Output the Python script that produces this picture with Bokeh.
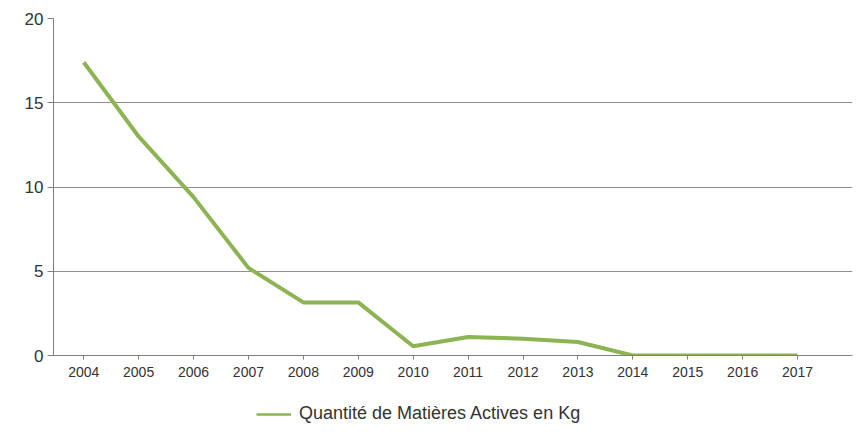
from bokeh.plotting import figure
from bokeh.models import FixedTicker, Range1d, Legend, LegendItem
from bokeh.layouts import column
from bokeh.embed import file_html
from bokeh.resources import INLINE

years = [2004, 2005, 2006, 2007, 2008, 2009, 2010, 2011, 2012, 2013, 2014, 2015, 2016, 2017]
quantite = [17.4, 13.0, 9.4, 5.2, 3.15, 3.15, 0.55, 1.1, 1.0, 0.8, 0.0, 0.0, 0.0, 0.0]
y_ticks = [0, 5, 10, 15, 20]
series_name = "Quantité de Matières Actives en Kg"

LINE_COLOR = "#8cb453"

p = figure(width=857, height=383, output_backend="svg", toolbar_location=None,
           x_range=Range1d(2003.45, 2018.0), y_range=Range1d(0, 20))
p.min_border_left = 53
p.min_border_top = 18
p.min_border_right = 5
p.min_border_bottom = 28
p.outline_line_color = None

r = p.line(years, quantite, line_color=LINE_COLOR, line_width=4, line_join="round")

p.xaxis.ticker = FixedTicker(ticks=years)
p.yaxis.ticker = FixedTicker(ticks=y_ticks)
p.xgrid.grid_line_color = None
p.ygrid.grid_line_color = "#8f8f8f"
p.ygrid.grid_line_width = 1
for ax in (p.xaxis, p.yaxis):
    ax.axis_line_color = "#808080"
    ax.major_tick_line_color = "#808080"
    ax.minor_tick_line_color = None
    ax.major_tick_in = 0
    ax.major_label_text_font = "Liberation Sans"
    ax.major_label_text_color = "#333333"
p.xaxis.major_tick_out = 4
p.yaxis.major_tick_out = 6
p.xaxis.major_label_text_font_size = "14px"
p.yaxis.major_label_text_font_size = "17px"
p.xaxis.major_label_standoff = 7
p.yaxis.major_label_standoff = 4

# legend strip below the chart
p2 = figure(width=857, height=52, output_backend="svg", toolbar_location=None,
            x_range=Range1d(0, 1), y_range=Range1d(0, 1))
p2.min_border = 0
p2.outline_line_color = None
p2.axis.visible = False
p2.grid.visible = False
dummy = p2.line(x=[-5, -4], y=[-5, -5], line_color=LINE_COLOR, line_width=2.5)
legend = Legend(items=[LegendItem(label=series_name, renderers=[dummy])],
                orientation="horizontal", location=(203, 11),
                border_line_color=None, background_fill_alpha=0,
                label_text_font="Liberation Sans", label_text_font_size="18px",
                label_text_color="#333333", glyph_width=35, margin=0, padding=0,
                label_standoff=8)
p2.add_layout(legend, "center")

layout = column(p, p2, spacing=0)
open("out.html", "w").write(file_html(layout, INLINE))
